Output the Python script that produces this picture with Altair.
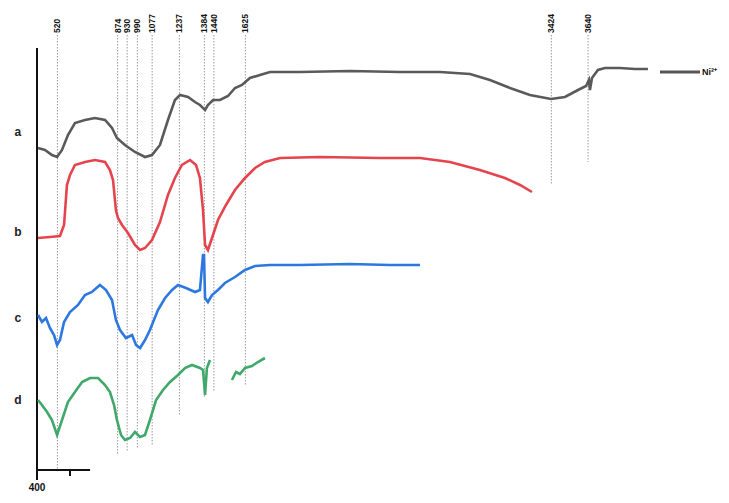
import altair as alt
import pandas as pd

# ---- spectra (wavenumber cm-1, transmittance in arbitrary offset units) ----
a_wn = [406, 447, 488, 518, 547, 582, 623, 682, 741, 800, 841, 870, 917, 976, 1035,
        1076, 1123, 1170, 1211, 1241, 1288, 1329, 1358, 1388, 1405, 1435, 1476, 1523, 1564, 1605,
        1652, 1711, 1770, 1946, 2240, 2534, 2769, 2946, 3063, 3181, 3298, 3422, 3504, 3581, 3628,
        3645, 3651, 3663, 3698, 3739, 3827, 3915, 3992]
a_t = [320, 318, 313, 311, 318, 333, 345, 348, 350, 348, 340, 330, 323, 316, 311,
       313, 323, 348, 368, 373, 371, 366, 363, 358, 363, 368, 368, 372, 380, 383,
       390, 393, 396, 396, 397, 396, 396, 394, 388, 380, 373, 369, 371, 378, 382,
       388, 378, 390, 398, 400, 400, 399, 399]

b_wn = [406, 476, 535, 559, 576, 594, 623, 682, 741, 800, 829, 847, 864, 876, 900,
        935, 976, 1006, 1035, 1076, 1123, 1170, 1211, 1252, 1300, 1335, 1358, 1376, 1388, 1405,
        1429, 1464, 1511, 1564, 1623, 1682, 1740, 1829, 2064, 2417, 2652, 2828, 3004, 3151, 3240, 3310]
b_t = [230, 231, 232, 243, 283, 293, 303, 306, 308, 306, 298, 288, 258, 250, 243,
       235, 223, 218, 220, 228, 246, 273, 290, 303, 308, 303, 290, 258, 223, 218,
       230, 248, 263, 278, 290, 300, 306, 310, 311, 310, 310, 306, 298, 290, 283, 276]

c_wn = [406, 429, 453, 476, 500, 518, 535, 559, 594, 641, 682, 723, 770, 806, 841,
        864, 888, 923, 959, 982, 1006, 1035, 1064, 1111, 1153, 1194, 1229, 1276, 1329, 1358,
        1376, 1382, 1388, 1405, 1429, 1464, 1505, 1564, 1623, 1682, 1770, 1946, 2240, 2475, 2652]
c_t = [153, 146, 150, 140, 133, 123, 128, 146, 156, 163, 173, 176, 183, 178, 168,
       148, 138, 130, 133, 123, 120, 128, 138, 158, 170, 178, 183, 180, 176, 178,
       213, 213, 170, 166, 173, 178, 185, 191, 198, 202, 203, 203, 204, 203, 203]

d1_wn = [406, 429, 459, 488, 518, 547, 582, 623, 665, 712, 759, 800, 829, 853, 870,
         894, 917, 947, 976, 1006, 1035, 1064, 1100, 1141, 1182, 1229, 1270, 1311, 1358, 1376,
         1388, 1399, 1417]
d1_t = [68, 63, 56, 48, 33, 48, 66, 76, 86, 90, 90, 83, 76, 63, 48,
        33, 28, 30, 36, 31, 33, 48, 68, 78, 86, 93, 100, 103, 100, 98,
        73, 100, 108]
d2_wn = [1546, 1570, 1593, 1623, 1664, 1699, 1740]
d2_t = [88, 96, 94, 100, 102, 106, 110]

series_names = ["a", "b", "c", "d"]
series_colors = ["#5a5a5a", "#e5444c", "#2c78e0", "#3fa86a"]

# ---- marked peaks ----
peak_wn = [520, 874, 930, 990, 1077, 1237, 1384, 1440, 1625, 3424, 3640]
peak_labels = ["520", "874", "930", "990", "1077", "1237", "1384", "1440", "1625", "3424", "3640"]
peak_bottom = [-2, 13, 16, 20, 23, 53, 70, 76, 83, 283, 306]
peak_top = 433
label_base = 435

curve_label_t = [336, 236, 150, 68]

rows = []
idx = 0
for name, seg, wn, t in [("a", "a1", a_wn, a_t), ("b", "b1", b_wn, b_t), ("c", "c1", c_wn, c_t),
                         ("d", "d1", d1_wn, d1_t), ("d", "d2", d2_wn, d2_t)]:
    for w, v in zip(wn, t):
        rows.append({"wn": w, "t": v, "series": name, "seg": seg, "idx": idx})
        idx += 1
df = pd.DataFrame(rows)

peaks = pd.DataFrame({"wn": peak_wn, "label": peak_labels, "bottom": peak_bottom,
                      "top": [peak_top] * len(peak_wn), "ly": [label_base] * len(peak_wn)})
clabels = pd.DataFrame({"wn": [288] * 4, "t": curve_label_t, "text": series_names})

xs = alt.Scale(domain=[400, 4398], nice=False, zero=False)
ys = alt.Scale(domain=[0, 460], nice=False, zero=False)

lines = alt.Chart(df).mark_line(strokeWidth=2.6).encode(
    x=alt.X("wn:Q", scale=xs, axis=None),
    y=alt.Y("t:Q", scale=ys, axis=None),
    color=alt.Color("series:N", scale=alt.Scale(domain=series_names, range=series_colors), legend=None),
    detail="seg:N",
    order="idx:Q",
)

vlines = alt.Chart(peaks).mark_rule(strokeDash=[1.5, 1.5], color="#9a9a9a", strokeWidth=1).encode(
    x=alt.X("wn:Q", scale=xs, axis=None),
    y=alt.Y("top:Q", scale=ys, axis=None),
    y2="bottom:Q",
)

vlabels = alt.Chart(peaks).mark_text(angle=270, align="left", baseline="middle", fontSize=8.5,
                                     fontWeight="bold", font="Liberation Sans", color="#111").encode(
    x=alt.X("wn:Q", scale=xs, axis=None),
    y=alt.Y("ly:Q", scale=ys, axis=None),
    text="label:N",
)

ctext = alt.Chart(clabels).mark_text(fontSize=12, fontWeight="bold", font="Liberation Sans",
                                     color="#222").encode(
    x=alt.X("wn:Q", scale=xs, axis=None),
    y=alt.Y("t:Q", scale=ys, axis=None),
    text="text:N",
)

axes_df = pd.DataFrame({"x": [400, 400, 594], "x2": [400, 712, 594],
                        "y": [-12, -2, -2], "y2": [420, -2, -8]})
axes = alt.Chart(axes_df).mark_rule(color="#111", strokeWidth=2).encode(
    x=alt.X("x:Q", scale=xs, axis=None), x2="x2:Q",
    y=alt.Y("y:Q", scale=ys, axis=None), y2="y2:Q",
)

xlabel = alt.Chart(pd.DataFrame({"wn": [400], "t": [-20], "text": ["400"]})).mark_text(
    fontSize=10, fontWeight="bold", font="Liberation Sans", color="#111").encode(
    x=alt.X("wn:Q", scale=xs, axis=None), y=alt.Y("t:Q", scale=ys, axis=None), text="text:N")

leg_line = alt.Chart(pd.DataFrame({"x": [4063], "x2": [4298], "y": [396]})).mark_rule(
    color="#555", strokeWidth=3).encode(
    x=alt.X("x:Q", scale=xs, axis=None), x2="x2:Q", y=alt.Y("y:Q", scale=ys, axis=None))
leg_text = alt.Chart(pd.DataFrame({"x": [4310], "y": [396], "text": ["Ni²⁺"]})).mark_text(
    align="left", baseline="middle", fontSize=9, fontWeight="bold", font="Liberation Sans",
    color="#111").encode(
    x=alt.X("x:Q", scale=xs, axis=None), y=alt.Y("y:Q", scale=ys, axis=None), text="text:N")

chart = alt.layer(vlines, axes, lines, vlabels, ctext, xlabel, leg_line, leg_text).properties(
    width=680, height=460,
    padding={"left": 29, "top": 0, "right": 4, "bottom": 26},
    autosize="none",
    background="white",
).configure_view(stroke=None)

chart.save("out.html", embed_options={"renderer": "svg", "actions": False})
